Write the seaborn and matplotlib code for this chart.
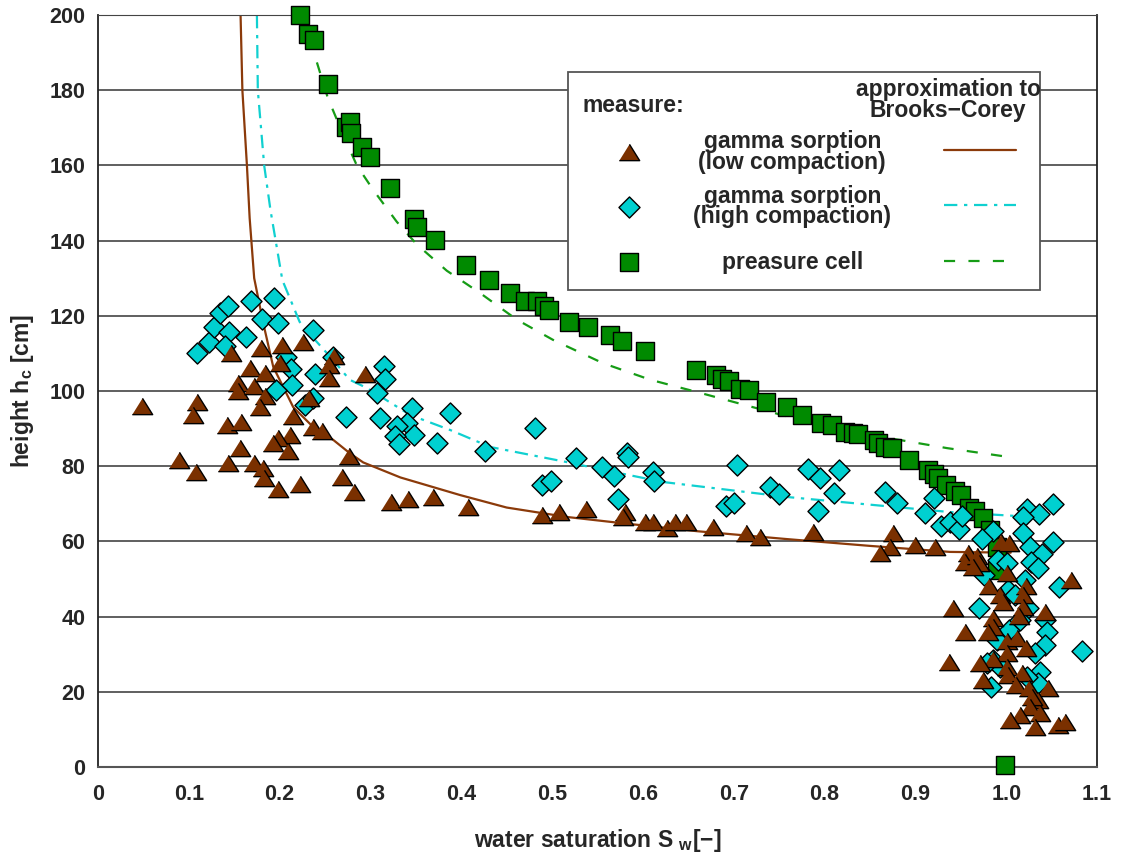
import matplotlib
matplotlib.use("Agg")
import matplotlib.pyplot as plt
import seaborn as sns
import pandas as pd
from matplotlib.patches import Rectangle
from matplotlib.lines import Line2D

# measured points: gamma sorption, low compaction (triangles)
low_x = [0.048, 0.109, 0.105, 0.089, 0.108, 0.142, 0.157, 0.143, 0.156, 0.146, 0.154, 0.154,
         0.167, 0.172, 0.180, 0.184, 0.184, 0.178, 0.203, 0.200, 0.226, 0.260, 0.254, 0.254,
         0.232, 0.215, 0.237, 0.247, 0.211, 0.198, 0.193, 0.209, 0.172, 0.182, 0.183, 0.198,
         0.222, 0.269, 0.276, 0.294, 0.282, 0.323, 0.341, 0.369, 0.407, 0.489, 0.508, 0.537,
         0.580, 0.578, 0.602, 0.611, 0.626, 0.635, 0.648, 0.677, 0.714, 0.729, 0.787, 0.875,
         0.872, 0.861, 0.900, 0.922, 0.958, 0.955, 0.968, 0.970, 0.964, 0.994, 1.003, 1.001,
         0.981, 0.993, 0.997, 1.022, 1.019, 1.019, 1.014, 1.071, 1.043, 0.941, 0.955, 0.986,
         0.986, 0.980, 1.001, 1.012, 1.022, 1.001, 0.986, 0.971, 0.937, 1.001, 1.002, 1.017,
         0.975, 1.011, 1.025, 1.046, 1.035, 1.028, 1.026, 1.037, 1.015, 1.004, 1.032, 1.057,
         1.065]
low_y = [96.0, 97.0, 93.6, 81.6, 78.5, 91.0, 91.8, 80.9, 84.8, 110.0, 102.0, 100.0,
         106.0, 101.3, 111.4, 104.8, 98.7, 95.7, 112.2, 107.5, 113.0, 109.3, 106.9, 103.5,
         98.1, 93.4, 90.4, 89.4, 88.3, 87.5, 86.2, 84.0, 80.8, 79.5, 76.9, 73.9,
         75.3, 77.1, 82.7, 104.5, 73.1, 70.5, 71.3, 71.8, 69.1, 67.0, 67.8, 68.6,
         67.8, 66.5, 65.2, 65.2, 63.6, 65.2, 65.2, 63.9, 62.2, 61.2, 62.5, 62.2,
         58.6, 56.8, 59.0, 58.5, 56.9, 54.5, 56.1, 54.3, 53.2, 59.8, 59.6, 51.6,
         48.1, 45.7, 43.9, 48.1, 45.7, 42.6, 40.2, 49.7, 41.2, 42.3, 36.0, 39.6,
         37.2, 36.0, 33.5, 34.3, 31.6, 30.3, 28.7, 27.7, 28.0, 26.6, 24.5, 25.0,
         23.1, 21.8, 21.0, 21.0, 17.8, 18.6, 16.0, 14.4, 13.8, 12.5, 10.6, 11.2,
         12.0]

# gamma sorption, high compaction (diamonds)
high_x = [0.109, 0.122, 0.128, 0.134, 0.143, 0.144, 0.140, 0.163, 0.168, 0.194, 0.181, 0.198,
          0.237, 0.207, 0.213, 0.214, 0.196, 0.239, 0.259, 0.273, 0.228, 0.237, 0.315, 0.316,
          0.307, 0.311, 0.346, 0.340, 0.348, 0.329, 0.327, 0.331, 0.373, 0.388, 0.426, 0.481,
          0.489, 0.499, 0.526, 0.555, 0.568, 0.573, 0.583, 0.584, 0.611, 0.612, 0.704, 0.692,
          0.700, 0.740, 0.750, 0.782, 0.795, 0.816, 0.810, 0.793, 0.867, 0.880, 0.920, 0.911,
          0.928, 0.938, 0.948, 0.951, 0.986, 0.973, 1.023, 1.036, 1.051, 1.019, 1.019, 1.052,
          1.026, 1.039, 1.027, 1.035, 1.058, 0.991, 1.001, 0.976, 1.002, 1.010, 1.021, 0.970,
          1.024, 1.043, 1.045, 1.043, 1.032, 1.003, 1.015, 1.084, 0.986, 0.993, 1.037, 1.035,
          0.983, 1.023, 0.979, 0.990]
high_y = [110.1, 113.0, 117.0, 120.7, 122.6, 115.7, 112.0, 114.4, 123.9, 124.7, 119.1, 118.1,
          116.2, 109.0, 105.8, 101.6, 100.3, 104.5, 109.0, 93.1, 96.3, 98.1, 106.6, 103.2,
          99.5, 92.8, 95.5, 91.5, 88.3, 90.7, 88.0, 85.9, 86.2, 94.1, 84.0, 90.2,
          75.0, 76.1, 82.2, 79.8, 77.4, 71.3, 83.5, 82.5, 78.5, 76.1, 80.3, 69.4,
          70.2, 74.5, 72.6, 79.3, 76.9, 79.0, 72.9, 68.1, 73.1, 70.2, 71.5, 67.6,
          64.0, 65.2, 63.3, 66.8, 62.8, 60.6, 68.6, 67.3, 70.0, 66.5, 62.2, 59.8,
          58.5, 56.6, 54.5, 52.9, 47.9, 55.0, 54.3, 51.1, 47.1, 45.7, 49.7, 42.3,
          42.3, 39.1, 36.0, 32.4, 30.3, 36.4, 39.1, 30.9, 28.5, 26.6, 25.3, 22.3,
          21.3, 23.9, 27.7, 33.8]

# pressure cell (squares)
cell_x = [0.222, 0.231, 0.238, 0.253, 0.273, 0.278, 0.279, 0.291, 0.300, 0.321, 0.348, 0.351,
          0.371, 0.405, 0.430, 0.454, 0.470, 0.483, 0.491, 0.497, 0.519, 0.539, 0.564, 0.577,
          0.602, 0.659, 0.680, 0.687, 0.695, 0.707, 0.717, 0.736, 0.759, 0.775, 0.796, 0.808,
          0.823, 0.831, 0.837, 0.854, 0.859, 0.867, 0.874, 0.893, 0.914, 0.920, 0.925, 0.934,
          0.944, 0.950, 0.959, 0.966, 0.975, 0.982, 0.990, 0.990, 0.999]
cell_y = [200.0, 195.0, 193.4, 181.6, 170.2, 171.5, 168.6, 165.0, 162.2, 154.0, 145.7, 143.6,
          140.2, 133.5, 129.5, 126.0, 123.9, 123.9, 122.6, 121.5, 118.4, 117.0, 114.9, 113.2,
          110.6, 105.6, 104.3, 103.2, 102.7, 100.5, 100.3, 97.1, 95.7, 93.6, 91.5, 91.0,
          89.1, 88.8, 88.6, 87.0, 86.2, 85.1, 84.8, 81.6, 79.0, 77.9, 76.9, 75.0,
          73.4, 72.3, 68.9, 68.1, 66.2, 63.0, 58.5, 52.4, 0.5]

# Brooks-Corey approximations
bc_low_x = [0.157, 0.159, 0.164, 0.167, 0.172, 0.182, 0.193, 0.215, 0.237, 0.259, 0.277, 0.292,
            0.333, 0.399, 0.450, 0.516, 0.575, 0.660, 0.759, 0.850, 0.938, 1.005]
bc_low_y = [200.0, 180.0, 160.0, 146.0, 130.0, 118.0, 106.4, 95.7, 90.4, 87.0, 83.5, 81.0,
            77.0, 72.3, 69.0, 66.5, 64.9, 62.7, 60.6, 58.8, 57.2, 57.0]
bc_high_x = [0.175, 0.176, 0.183, 0.190, 0.203, 0.222, 0.230, 0.259, 0.277, 0.296, 0.344, 0.388,
             0.432, 0.516, 0.553, 0.622, 0.759, 0.938, 1.008]
bc_high_y = [200.0, 180.0, 160.0, 148.0, 129.5, 118.4, 116.0, 108.2, 103.0, 100.8, 93.6, 89.6,
             85.1, 81.1, 79.2, 75.8, 71.8, 67.8, 66.8]
bc_cell_x = [0.228, 0.239, 0.253, 0.272, 0.285, 0.303, 0.329, 0.351, 0.384, 0.421, 0.461, 0.501,
             0.556, 0.608, 0.663, 0.773, 0.870, 0.935, 1.004]
bc_cell_y = [200.0, 189.0, 178.0, 167.0, 160.0, 153.5, 145.0, 139.0, 132.0, 126.0, 119.0, 113.6,
             107.4, 103.0, 99.5, 92.3, 87.5, 84.8, 82.4]

x_ticks = [0, 0.1, 0.2, 0.3, 0.4, 0.5, 0.6, 0.7, 0.8, 0.9, 1.0, 1.1]
x_tick_labels = ["0", "0.1", "0.2", "0.3", "0.4", "0.5", "0.6", "0.7", "0.8", "0.9", "1.0", "1.1"]
y_ticks = [0, 20, 40, 60, 80, 100, 120, 140, 160, 180, 200]

brown = "#7a3000"
cyan = "#00d0d0"
green = "#008a00"

sns.set_style("white")
plt.rcParams["font.family"] = ["Liberation Sans", "DejaVu Sans"]
plt.rcParams["font.weight"] = "bold"
plt.rcParams["mathtext.fontset"] = "custom"
plt.rcParams["mathtext.rm"] = "Liberation Sans:bold"
plt.rcParams["mathtext.default"] = "rm"

fig = plt.figure(figsize=(11.21, 8.52), dpi=100)
ax = fig.add_axes([0.0874, 0.0998, 0.8912, 0.8826])

low = pd.DataFrame({"S": low_x, "h": low_y})
high = pd.DataFrame({"S": high_x, "h": high_y})
cell = pd.DataFrame({"S": cell_x, "h": cell_y})

# fitted curves first, markers on top
sns.lineplot(x=bc_low_x, y=bc_low_y, sort=False, estimator=None, color="#8b3a0a", lw=1.6, ax=ax, zorder=2)
sns.lineplot(x=bc_high_x, y=bc_high_y, sort=False, estimator=None, color="#10d0d0", lw=1.6, ax=ax,
             zorder=2, dashes=False, linestyle=(0, (6, 3, 1.5, 3)))
sns.lineplot(x=bc_cell_x, y=bc_cell_y, sort=False, estimator=None, color="#169c16", lw=1.6, ax=ax,
             zorder=2, linestyle=(0, (5, 6)))

tri = [(-1, -0.8), (1, -0.8), (0, 0.8)]
sq_s, dia_s, tri_s = 165, 115, 215
sns.scatterplot(data=cell, x="S", y="h", marker="s", s=sq_s, color=green, edgecolor="black",
                linewidth=1.0, ax=ax, zorder=3, clip_on=False)
sns.scatterplot(data=high, x="S", y="h", marker="D", s=dia_s, color=cyan, edgecolor="black",
                linewidth=1.0, ax=ax, zorder=4, clip_on=False)
sns.scatterplot(data=low, x="S", y="h", marker=tri, s=tri_s, color=brown, edgecolor="black",
                linewidth=1.0, ax=ax, zorder=5, clip_on=False)

ax.set_xlim(0, 1.1)
ax.set_ylim(0, 200)
ax.set_xticks(x_ticks)
ax.set_xticklabels(x_tick_labels)
ax.set_yticks(y_ticks)
ax.yaxis.grid(True, color="#444444", lw=1.2)
ax.xaxis.grid(False)
ax.set_axisbelow(True)
ax.tick_params(axis="x", length=0, labelsize=15.5, pad=12)
ax.tick_params(axis="y", length=5, color="#444444", labelsize=15.5, pad=4, direction="out")
for lab in ax.get_xticklabels() + ax.get_yticklabels():
    lab.set_fontweight("bold")
ax.spines["left"].set_color("#222222")
ax.spines["left"].set_linewidth(1.3)
ax.spines["right"].set_color("#222222")
ax.spines["right"].set_linewidth(1.3)
ax.spines["top"].set_color("#444444")
ax.spines["bottom"].set_color("#555555")
ax.spines["bottom"].set_linewidth(1.5)

ax.set_xlabel("water saturation S $_{\\mathrm{w}}$[\u2212]", fontsize=16.5, fontweight="bold", labelpad=16)
ax.set_ylabel("height h$_{\\mathrm{c}}$ [cm]", fontsize=16.5, fontweight="bold", labelpad=10)

# hand-made legend box
T = ax.transAxes
ax.add_patch(Rectangle((0.470, 0.634), 0.473, 0.290, transform=T, facecolor="white",
                       edgecolor="#555555", lw=1.3, zorder=10, clip_on=False))
ax.text(0.485, 0.880, "measure:", transform=T, fontsize=16.5, fontweight="bold", va="center", zorder=11)
ax.text(0.851, 0.887, "approximation to\nBrooks\u2212Corey", transform=T, fontsize=16.5, fontweight="bold",
        ha="center", va="center", linespacing=0.9, zorder=11)
rows = [
    ("gamma sorption\n(low compaction)", tri, tri_s, brown, "#8b3a0a", "-", 0.818),
    ("gamma sorption\n(high compaction)", "D", dia_s, cyan, "#10d0d0", (0, (6, 3, 1.5, 3)), 0.745),
    ("preasure cell", "s", sq_s, green, "#169c16", (0, (5, 6)), 0.671),
]
for label, mk, sz, fc, lc, ls, yy in rows:
    ax.scatter([0.532], [yy], transform=T, marker=mk, s=sz, color=fc, edgecolor="black",
               linewidth=1.0, zorder=11, clip_on=False)
    ax.text(0.695, yy, label, transform=T, fontsize=16.5, fontweight="bold", ha="center", va="center",
            linespacing=0.85, zorder=11)
    ax.add_line(Line2D([0.847, 0.919], [yy + 0.002, yy + 0.002], transform=T, color=lc, lw=1.6,
                       linestyle=ls, zorder=11))

fig.savefig("out.png", dpi=100)
